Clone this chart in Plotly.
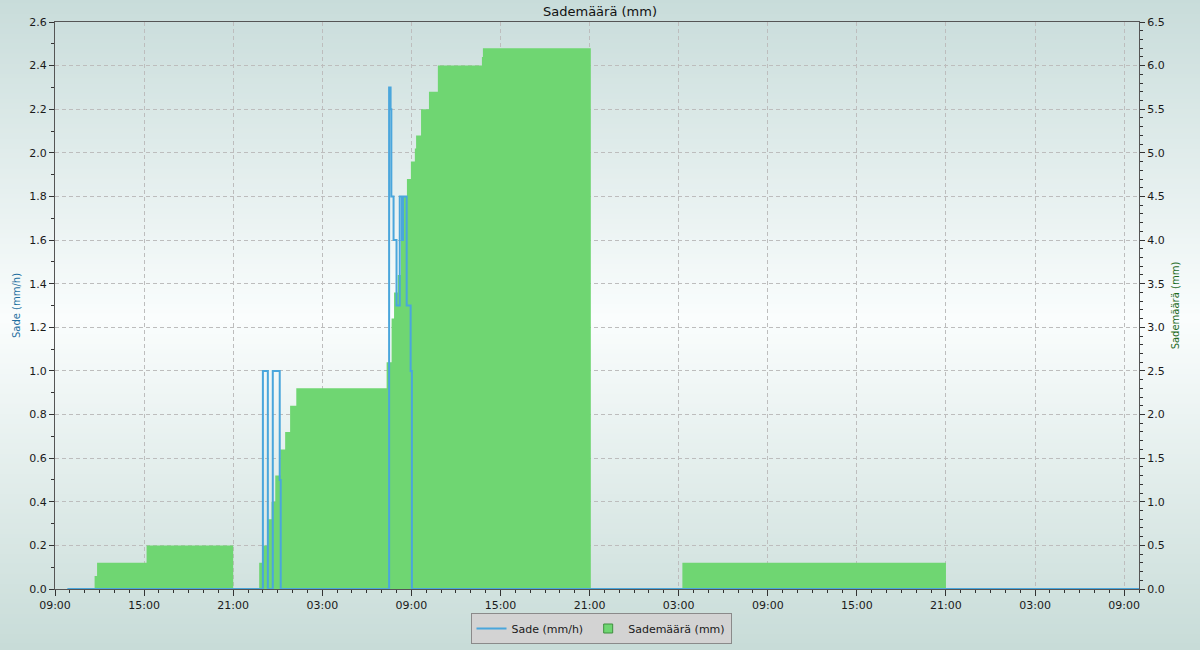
import plotly.graph_objects as go

# ---- data ----
sade_times = [
    "2024-09-10 09:50", "2024-09-10 23:00", "2024-09-10 23:20", "2024-09-10 23:40",
    "2024-09-11 00:08", "2024-09-11 00:12", "2024-09-11 07:30", "2024-09-11 07:36",
    "2024-09-11 07:39", "2024-09-11 07:48", "2024-09-11 08:00", "2024-09-11 08:13",
    "2024-09-11 08:22", "2024-09-11 08:26", "2024-09-11 08:41", "2024-09-11 08:57",
    "2024-09-11 09:02", "2024-09-13 10:00",
]
sade_values = [0, 1.0, 0, 1.0, 0.5, 0, 2.3, 2.2, 1.8, 1.6, 1.3, 1.8, 1.6, 1.8, 1.3, 1.0, 0, 0]

maara_times = [
    "2024-09-10 09:50", "2024-09-10 11:40", "2024-09-10 11:50", "2024-09-10 15:10",
    "2024-09-10 21:00", "2024-09-10 22:45", "2024-09-10 23:00", "2024-09-10 23:20",
    "2024-09-10 23:35", "2024-09-10 23:50", "2024-09-11 00:10", "2024-09-11 00:30",
    "2024-09-11 00:50", "2024-09-11 01:15", "2024-09-11 07:20", "2024-09-11 07:40",
    "2024-09-11 07:50", "2024-09-11 08:05", "2024-09-11 08:18", "2024-09-11 08:27",
    "2024-09-11 08:42", "2024-09-11 08:58", "2024-09-11 09:14", "2024-09-11 09:19",
    "2024-09-11 09:39", "2024-09-11 10:11", "2024-09-11 10:47", "2024-09-11 13:45",
    "2024-09-11 13:49", "2024-09-11 21:05", "2024-09-12 03:15", "2024-09-12 21:00",
    "2024-09-13 10:00",
]
maara_values = [0, 0.15, 0.3, 0.5, 0, 0.3, 0.5, 0.8, 1.0, 1.3, 1.6, 1.8, 2.1, 2.3, 2.6, 3.1,
                3.4, 3.6, 4.25, 4.5, 4.7, 4.9, 5.05, 5.2, 5.5, 5.7, 6.0, 6.1, 6.2, 0, 0.3, 0, 0]

x_range = ["2024-09-10 09:00", "2024-09-13 10:00"]
title_text = "Sademäärä (mm)"
left_title = "Sade (mm/h)"
right_title = "Sademäärä (mm)"

FONT = "DejaVu Sans, sans-serif"
GREEN = "#6fd672"
BLUE = "#4aa6dc"
W, H = 1200, 650
L, R, T, B = 55, 61, 22, 61
PW, PH = W - L - R, H - T - B

fig = go.Figure()

# cumulative amount (primary axis, drawn on right side)
fig.add_trace(go.Scatter(
    x=maara_times, y=maara_values, name=right_title,
    mode="lines", line=dict(shape="hv", width=0, color=GREEN),
    fill="tozeroy", fillcolor=GREEN, yaxis="y", showlegend=False,
))
# legend entry for the amount (square symbol)
fig.add_trace(go.Scatter(
    x=[None], y=[None], name=right_title, mode="markers",
    marker=dict(symbol="square", size=9, color=GREEN, line=dict(color="#3f8f3f", width=1)),
    yaxis="y", legendrank=2,
))
# intensity (overlay axis, left side)
fig.add_trace(go.Scatter(
    x=sade_times, y=sade_values, name=left_title,
    mode="lines", line=dict(shape="hv", width=2, color=BLUE),
    yaxis="y2", legendrank=1,
))

# background vertical gradient
def bg(ypx):
    top = (200, 220, 218)
    mid = (250, 253, 253)
    bot = (200, 220, 216)
    midy = 320
    if ypx <= midy:
        t = ypx / midy
        c = [top[i] + (mid[i] - top[i]) * t for i in range(3)]
    else:
        t = (ypx - midy) / (H - midy)
        c = [mid[i] + (bot[i] - mid[i]) * t for i in range(3)]
    return "rgb(%d,%d,%d)" % tuple(int(round(v)) for v in c)

shapes = []
step = 5
for y0 in range(0, H, step):
    y1 = y0 + step
    shapes.append(dict(
        type="rect", xref="paper", yref="paper", layer="below",
        x0=-L / PW - 0.01, x1=(W - L) / PW + 0.01,
        y0=(H - B - y1) / PH, y1=(H - B - y0) / PH + 0.002,
        fillcolor=bg(y0 + step / 2), line=dict(width=0),
    ))

grid = dict(showgrid=True, gridcolor="#bdbdbd", griddash="4px,3px", gridwidth=1)

fig.update_layout(
    width=W, height=H,
    margin=dict(l=L, r=R, t=T, b=B, autoexpand=False),
    paper_bgcolor="rgb(220,232,232)", plot_bgcolor="rgba(0,0,0,0)",
    shapes=shapes,
    font=dict(family=FONT, size=11, color="#1a1a1a"),
    title=dict(text=title_text, x=0.5, xanchor="center", y=1 - 11 / H, yanchor="middle",
               font=dict(family=FONT, size=13, color="#111111")),
    showlegend=True,
    legend=dict(orientation="h", x=(601 - L) / PW, xanchor="center", y=-24 / PH, yanchor="top",
                bgcolor="#d3d3d3", bordercolor="#8a8a8a", borderwidth=1,
                font=dict(family=FONT, size=11, color="#1a1a1a"), traceorder="normal",
                itemwidth=30),
    xaxis=dict(
        type="date", range=x_range, tickformat="%H:%M",
        tick0="2024-09-10 09:00", dtick=6 * 3600 * 1000,
        ticks="outside", ticklen=6, tickcolor="#333", tickwidth=1,
        minor=dict(dtick=3600 * 1000, ticks="outside", ticklen=3, tickcolor="#333", showgrid=False),
        showline=True, linecolor="#555555", linewidth=1, mirror=True,
        zeroline=False, **grid,
    ),
    yaxis=dict(
        range=[0, 6.5], side="right", dtick=0.5, tick0=0, tickformat=".1f",
        ticks="outside", ticklen=5, tickcolor="#333",
        minor=dict(dtick=0.1, ticks="outside", ticklen=3, tickcolor="#333", showgrid=False),
        showline=True, linecolor="#555555", linewidth=1,
        zeroline=False, **grid,
        title=dict(text=right_title, font=dict(family=FONT, size=10, color="#1e6b1e"), standoff=8),
    ),
    yaxis2=dict(
        range=[0, 2.6], overlaying="y", side="left", dtick=0.2, tick0=0, tickformat=".1f",
        ticks="outside", ticklen=5, tickcolor="#333",
        minor=dict(dtick=0.1, ticks="outside", ticklen=3, tickcolor="#333", showgrid=False),
        showline=True, linecolor="#555555", linewidth=1,
        showgrid=False, zeroline=False,
        title=dict(text=left_title, font=dict(family=FONT, size=10, color="#1f6fa0"), standoff=6),
    ),
)

fig.write_html("out.html", config={"displayModeBar": False},
               post_script="document.body.style.margin='0';")
